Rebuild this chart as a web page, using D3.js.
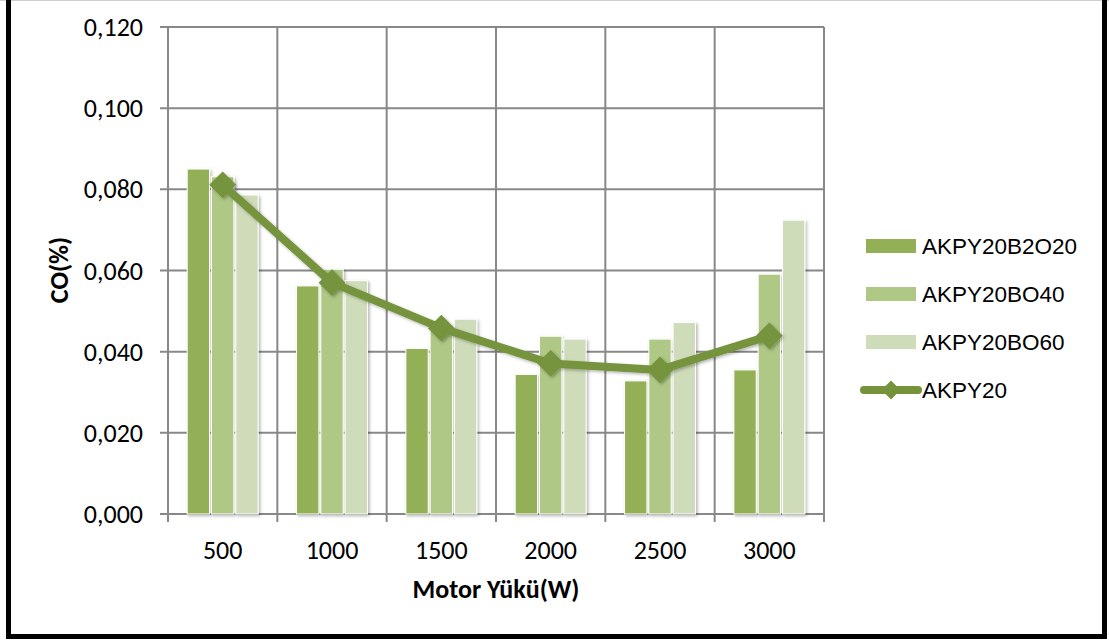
<!DOCTYPE html>
<html>
<head>
<meta charset="utf-8">
<script src="https://cdn.jsdelivr.net/npm/d3@7"></script>
<style>
  html, body { margin: 0; padding: 0; background: #fff; }
  svg { display: block; }
  text { font-family: Carlito, "Liberation Sans", Arial, sans-serif; fill: #000; }
  text.legend-label { font-family: "Liberation Sans", Arial, sans-serif; }
</style>
</head>
<body>
<svg id="chart" width="1109" height="640"></svg>
<script>
// Engine load (W) categories
const categories = ["500", "1000", "1500", "2000", "2500", "3000"];

// CO (%) per fuel blend
const seriesNames = ["AKPY20B2O20", "AKPY20BO40", "AKPY20BO60"];
const akpy20b2o20 = [0.0850, 0.0562, 0.0408, 0.0344, 0.0328, 0.0355];
const akpy20bo40  = [0.0831, 0.0603, 0.0462, 0.0438, 0.0431, 0.0591];
const akpy20bo60  = [0.0786, 0.0575, 0.0480, 0.0431, 0.0472, 0.0724];
const lineName = "AKPY20";
const akpy20 = [0.0811, 0.0570, 0.0458, 0.0371, 0.0355, 0.0439];

const yTicks = [0, 0.02, 0.04, 0.06, 0.08, 0.10, 0.12];

const barColors = ["#93B056", "#AFC886", "#CFDCBA"];
const lineColor = "#76933C";
const gridColor = "#888888";

const barSeries = [akpy20b2o20, akpy20bo40, akpy20bo60];

const svg = d3.select("#chart");

// soft drop shadow used on bars and the line
const defs = svg.append("defs");
const shadow = defs.append("filter").attr("id", "shadow")
  .attr("x", "-20%").attr("y", "-20%").attr("width", "150%").attr("height", "150%");
shadow.append("feDropShadow")
  .attr("dx", 1.5).attr("dy", 1.5).attr("stdDeviation", 1.5)
  .attr("flood-color", "#000").attr("flood-opacity", 0.3);

// outer frame
svg.append("line").attr("x1", 0).attr("x2", 1109).attr("y1", 0.5).attr("y2", 0.5)
  .attr("stroke", "#cfcfcf").attr("stroke-width", 1);
svg.append("path")
  .attr("d", "M8.5,0 V636.5 H1104.5 V0")
  .attr("fill", "none").attr("stroke", "#000").attr("stroke-width", 5);

const plot = { left: 168, right: 824, top: 27, bottom: 514 };

const x0 = d3.scaleBand().domain(categories).range([plot.left, plot.right]).padding(0);
const x1 = d3.scaleBand().domain(seriesNames).range([0, x0.bandwidth()])
  .paddingInner(0.08).paddingOuter(0.79);
const y = d3.scaleLinear().domain([0, 0.12]).range([plot.bottom, plot.top]);

const fmt = v => d3.format(".3f")(v).replace(".", ",");

// horizontal gridlines
svg.append("g").selectAll("line").data(yTicks).join("line")
  .attr("x1", plot.left - 8).attr("x2", plot.right)
  .attr("y1", d => y(d)).attr("y2", d => y(d))
  .attr("stroke", gridColor).attr("stroke-width", 2);

// vertical gridlines at category boundaries
const bounds = categories.map(c => x0(c)).concat([plot.right]);
svg.append("g").selectAll("line").data(bounds).join("line")
  .attr("x1", d => d).attr("x2", d => d)
  .attr("y1", plot.top).attr("y2", plot.bottom + 8)
  .attr("stroke", gridColor).attr("stroke-width", 2);

// y tick labels
svg.append("g").selectAll("text").data(yTicks).join("text")
  .attr("x", 143).attr("y", d => y(d))
  .attr("text-anchor", "end").attr("dominant-baseline", "central")
  .style("font-size", "26px")
  .text(fmt);

// x tick labels
svg.append("g").selectAll("text").data(categories).join("text")
  .attr("x", d => x0(d) + x0.bandwidth() / 2).attr("y", 550)
  .attr("text-anchor", "middle").attr("dominant-baseline", "central")
  .style("font-size", "26px")
  .text(d => d);

// bars
const barData = [];
categories.forEach((c, i) => {
  seriesNames.forEach((s, j) => barData.push({ c, s, j, v: barSeries[j][i] }));
});
svg.append("g").attr("filter", "url(#shadow)")
  .selectAll("rect").data(barData).join("rect")
  .attr("x", d => x0(d.c) + x1(d.s))
  .attr("width", x1.bandwidth())
  .attr("y", d => y(d.v))
  .attr("height", d => y(0) - y(d.v))
  .attr("fill", d => barColors[d.j])
  .attr("stroke", "#fff").attr("stroke-width", 1);

// line series with diamond markers
const lineGen = d3.line()
  .x((d, i) => x0(categories[i]) + x0.bandwidth() / 2)
  .y(d => y(d));
const lineG = svg.append("g").attr("filter", "url(#shadow)");
lineG.append("path").datum(akpy20)
  .attr("d", lineGen)
  .attr("fill", "none").attr("stroke", lineColor)
  .attr("stroke-width", 8).attr("stroke-linejoin", "round");
lineG.selectAll("path.mk").data(akpy20).join("path").attr("class", "mk")
  .attr("transform", (d, i) => `translate(${x0(categories[i]) + x0.bandwidth() / 2},${y(d)}) rotate(45)`)
  .attr("d", d3.symbol().type(d3.symbolSquare).size(360))
  .attr("fill", lineColor);

// axis titles
svg.append("text")
  .attr("x", 496).attr("y", 589)
  .attr("text-anchor", "middle").attr("dominant-baseline", "central")
  .style("font-size", "26px").style("font-weight", "bold")
  .text("Motor Yükü(W)");
svg.append("text")
  .attr("transform", "translate(59,270) rotate(-90)")
  .attr("text-anchor", "middle").attr("dominant-baseline", "central")
  .style("font-size", "26px").style("font-weight", "bold")
  .text("CO(%)");

// legend
const legend = svg.append("g");
const rowY = [246, 294, 342, 390];
seriesNames.forEach((s, j) => {
  legend.append("rect")
    .attr("x", 866).attr("y", rowY[j] - 7).attr("width", 50).attr("height", 14)
    .attr("fill", barColors[j]);
  legend.append("text").attr("class", "legend-label")
    .attr("x", 922).attr("y", rowY[j])
    .attr("dominant-baseline", "central")
    .style("font-size", "22.5px")
    .text(s);
});
legend.append("line")
  .attr("x1", 864).attr("x2", 918).attr("y1", rowY[3]).attr("y2", rowY[3])
  .attr("stroke", lineColor).attr("stroke-width", 8).attr("stroke-linecap", "round");
legend.append("path")
  .attr("transform", `translate(891,${rowY[3]}) rotate(45)`)
  .attr("d", d3.symbol().type(d3.symbolSquare).size(180))
  .attr("fill", lineColor);
legend.append("text").attr("class", "legend-label")
  .attr("x", 922).attr("y", rowY[3])
  .attr("dominant-baseline", "central")
  .style("font-size", "22.5px")
  .text(lineName);
</script>
</body>
</html>
